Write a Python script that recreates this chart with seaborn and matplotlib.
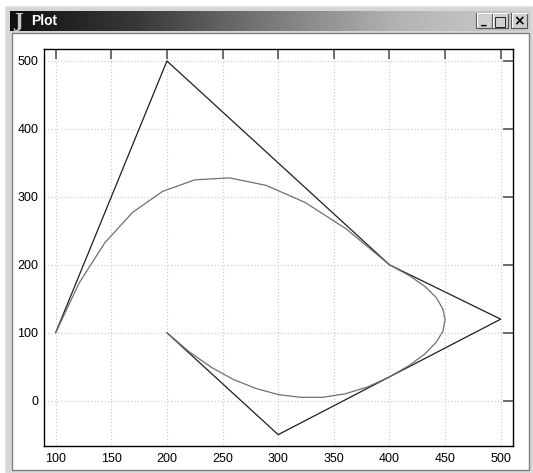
import numpy as np
import pandas as pd
import matplotlib
matplotlib.use('Agg')
import matplotlib.pyplot as plt
from matplotlib.patches import Rectangle
import seaborn as sns

# control polygon
poly_x = [100, 200, 400, 500, 300, 200]
poly_y = [100, 500, 200, 120, -50, 100]

# spline curve
curve_x = [100, 121, 144, 169, 196, 225, 256, 289, 324, 361, 400,
           418, 432, 442, 448, 450, 448, 442, 432, 418, 400,
           380, 360, 340, 320, 300, 280, 260, 240, 220, 200]
curve_y = [100, 173, 232, 277, 308, 325, 328, 317, 292, 253, 200,
           184, 168, 152, 135, 119, 102, 86, 69, 52, 35,
           20, 10, 5, 5, 9, 18, 31, 49, 72, 100]

xticks = [100, 150, 200, 250, 300, 350, 400, 450, 500]
yticks = [0, 100, 200, 300, 400, 500]

poly_df = pd.DataFrame({'x': poly_x, 'y': poly_y})
curve_df = pd.DataFrame({'x': curve_x, 'y': curve_y})

sns.set_style('white')
plt.rcParams['font.family'] = ['Liberation Sans', 'DejaVu Sans']

W, H = 533, 473
fig = plt.figure(figsize=(W / 100, H / 100), dpi=100)
fig.patch.set_facecolor('white')

# window chrome, drawn in pixel coordinates
bg = fig.add_axes([0, 0, 1, 1], zorder=0)
bg.set_xlim(0, W)
bg.set_ylim(H, 0)
bg.axis('off')
bg.add_patch(Rectangle((5, 6), W - 5, H - 6, fc='#d6d6d6', ec='#e8e8e8', lw=1))
grad = np.linspace(0, 1, 256).reshape(1, -1)
bg.imshow(grad, extent=(10, 530, 31, 11), cmap=matplotlib.colors.LinearSegmentedColormap.from_list(
    'tb', ['#101010', '#3a3a3a', '#7a7a7a', '#b4b4b4', '#cccccc']), aspect='auto', zorder=1)
bg.text(14, 22, 'J', color='#c8c8c8', fontsize=13, fontweight='bold', family='DejaVu Serif',
        va='center', ha='left', zorder=2)
bg.text(31, 21, 'Plot', color='white', fontsize=10, fontweight='bold', va='center', ha='left', zorder=2)
for bx, lab in [(476, '_'), (492, '\u25a1'), (511, '\u00d7')]:
    bg.add_patch(Rectangle((bx, 13), 16, 15, fc='#d0d0d0', ec='#555555', lw=0.8, zorder=2))
    bg.plot([bx + 0.5, bx + 0.5, bx + 15.5], [27.5, 13.5, 13.5], color='white', lw=0.8, zorder=3)
    bg.text(bx + 8, 21, lab, ha='center', va='center', fontsize=10 if lab != '_' else 8,
            fontweight='bold', color='black', zorder=3, family='DejaVu Sans')
bg.add_patch(Rectangle((11.5, 33.5), 517, 436, fc='white', ec='#808080', lw=1, zorder=1))

ax = fig.add_axes([44 / W, (H - 446) / H, (512.7 - 44) / W, (446 - 49.3) / H], zorder=1)
sns.lineplot(data=poly_df, x='x', y='y', sort=False, estimator=None, ax=ax,
             color='#1e1e1e', lw=0.9)
sns.lineplot(data=curve_df, x='x', y='y', sort=False, estimator=None, ax=ax,
             color='#707070', lw=0.9)

ax.set_xlim(89.5, 510.8)
ax.set_ylim(-66.7, 517.2)
ax.set_xticks(xticks)
ax.set_yticks(yticks)
ax.set_xlabel('')
ax.set_ylabel('')
ax.grid(True, color='#c8c8c8', lw=0.8, linestyle=(0, (1, 2)))
ax.tick_params(direction='in', length=7, width=1.2, color='#555555',
               top=True, right=True, labelsize=9, labelcolor='black', pad=4)
ax.tick_params(axis='x', pad=5)
for s in ax.spines.values():
    s.set_color('black')
    s.set_linewidth(1)

fig.savefig('out.png', dpi=100)
